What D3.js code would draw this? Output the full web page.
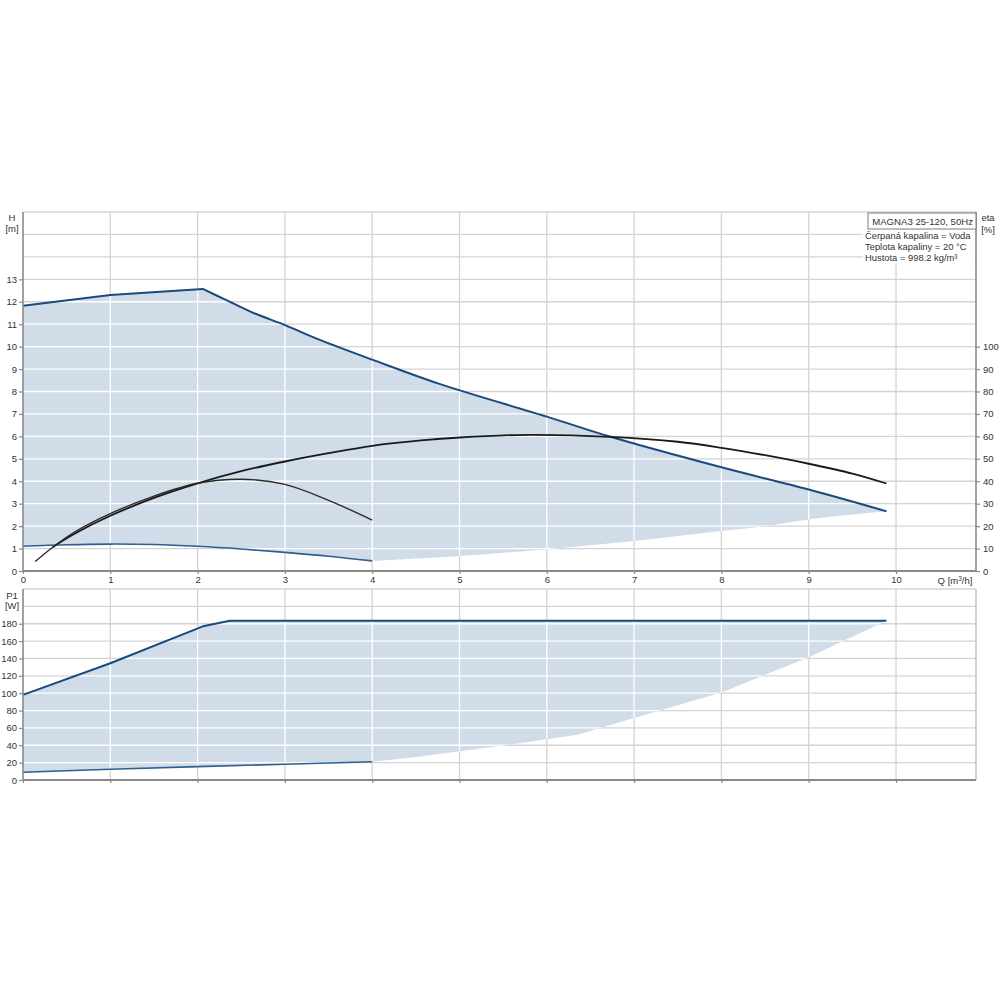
<!DOCTYPE html>
<html><head><meta charset="utf-8">
<script src="https://cdn.jsdelivr.net/npm/d3@7"></script>
<style>
html,body{margin:0;padding:0;background:#fff;}
svg text{font-family:"Liberation Sans",Arial,sans-serif;fill:#333;}
</style></head>
<body>
<svg id="chart" width="1000" height="1000"></svg>
<script>
// ---------- data ----------
const qTicks = [0,1,2,3,4,5,6,7,8,9,10];
const hTicks = [0,1,2,3,4,5,6,7,8,9,10,11,12,13];
const etaTicks = [0,10,20,30,40,50,60,70,80,90,100];
const pTicks = [0,20,40,60,80,100,120,140,160,180];

// H max curve: rising part and falling part
const qHmaxRise = [0, 1, 2.06];
const hMaxRise  = [11.82, 12.3, 12.57];
const qHmaxFall = [2.06, 2.33, 2.64, 3, 3.4, 4, 4.77, 6, 6.73, 8, 9, 9.89];
const hMaxFall  = [12.57, 12.07, 11.5, 10.96, 10.3, 9.42, 8.34, 6.88, 5.98, 4.62, 3.63, 2.66];
// H min curve
const qHmin = [0, 0.5, 1, 1.5, 2, 2.5, 3, 3.5, 4];
const hMin  = [1.1, 1.17, 1.2, 1.18, 1.1, 0.98, 0.83, 0.66, 0.45];
// lower boundary of the H operating range beyond min curve
const qHlow = [4, 5, 6, 7, 8, 8.5, 9, 9.89];
const hLow  = [0.45, 0.67, 0.97, 1.34, 1.78, 2.0, 2.3, 2.66];
// efficiency curves
const qEtaMax = [0.34, 0.6, 1, 1.5, 2, 2.5, 3, 3.5, 4, 4.56, 5, 5.8, 6.73, 7.5, 8, 8.5, 9, 9.5, 9.89];
const etaMax  = [10.6, 16.8, 24.6, 32.6, 39.1, 44.5, 48.8, 52.5, 55.8, 58.2, 59.5, 60.7, 59.8, 57.6, 54.9, 51.6, 47.8, 43.4, 39.0];
const qEtaMin = [0.14, 0.34, 0.6, 1, 1.5, 2, 2.5, 3, 3.5, 4];
const etaMin  = [4.2, 10.6, 17.6, 25.6, 33.4, 39.1, 40.9, 38.6, 31.5, 22.7];
// P1 curves
const qPmax = [0, 1, 2.06, 2.37, 9.89];
const pMax  = [98, 134.5, 177, 183.5, 183.5];
const qPmin = [0, 1, 2, 3, 4];
const pMin  = [9, 12.3, 15.4, 18.1, 21];
const qPlow = [4, 4.55, 5.57, 6.35, 7, 8, 9, 9.89];
const pLow  = [21, 27.2, 40.6, 52.1, 71.3, 100.8, 141.4, 183.5];

const titleText = "MAGNA3 25-120, 50Hz";
const infoLines = ["Čerpaná kapalina = Voda", "Teplota kapaliny = 20 °C", "Hustota = 998.2 kg/m³"];

// ---------- layout ----------
const L = 23, R = 976, T1 = 212, B1 = 571, T2 = 589, B2 = 780;
const svg = d3.select("#chart");
const x = d3.scaleLinear().domain([0, 10.916]).range([L, R]);
const yH = d3.scaleLinear().domain([0, 16]).range([B1, T1]);
const yEta = d3.scaleLinear().domain([0, 160]).range([B1, T1]);
const yP = d3.scaleLinear().domain([0, 220]).range([B2, T2]);

const zip = (a, b) => a.map((v, i) => [v, b[i]]);
const gridCol = "#d4d4d4", curveBlue = "#1b4a7c", fillCol = "#d0dce8";

function drawGrid(g, yScale, yVals, top, bottom, color) {
  g.selectAll(null).data(yVals).enter().append("line")
    .attr("x1", L).attr("x2", R).attr("y1", d => yScale(d)).attr("y2", d => yScale(d))
    .attr("stroke", color).attr("stroke-width", 1.3);
  g.selectAll(null).data(d3.range(1, 11)).enter().append("line")
    .attr("x1", d => x(d)).attr("x2", d => x(d)).attr("y1", top).attr("y2", bottom)
    .attr("stroke", color).attr("stroke-width", 1.3);
}

// line generators
const lineH = d3.line().x(d => x(d[0])).y(d => yH(d[1]));
const lineHs = d3.line().x(d => x(d[0])).y(d => yH(d[1])).curve(d3.curveCatmullRom);
const lineEta = d3.line().x(d => x(d[0])).y(d => yEta(d[1])).curve(d3.curveCatmullRom);
const lineP = d3.line().x(d => x(d[0])).y(d => yP(d[1]));
const linePs = d3.line().x(d => x(d[0])).y(d => yP(d[1])).curve(d3.curveCatmullRom);
const cont = s => "L" + s.slice(1);

// ---------- fill paths ----------
const topFillPath =
  lineH(zip(qHmaxRise, hMaxRise)) +
  cont(lineHs(zip(qHmaxFall, hMaxFall))) +
  cont(lineHs(zip(qHlow, hLow).reverse())) +
  cont(lineHs(zip(qHmin, hMin).reverse())) + "Z";
const botFillPath =
  lineP(zip(qPmax, pMax)) +
  cont(lineP(zip(qPlow, pLow).reverse())) +
  cont(lineP(zip(qPmin, pMin).reverse())) + "Z";

const defs = svg.append("defs");
defs.append("clipPath").attr("id", "clipTop").append("path").attr("d", topFillPath);
defs.append("clipPath").attr("id", "clipBot").append("path").attr("d", botFillPath);

const hGrid = d3.range(1, 17);
const pGrid = d3.range(20, 221, 20);

// grey grid
drawGrid(svg.append("g"), yH, hGrid, T1, B1, gridCol);
drawGrid(svg.append("g"), yP, pGrid, T2, B2, gridCol);
// fills
svg.append("path").attr("d", topFillPath).attr("fill", fillCol);
svg.append("path").attr("d", botFillPath).attr("fill", fillCol);
// white grid over fills
drawGrid(svg.append("g").attr("clip-path", "url(#clipTop)"), yH, hGrid, T1, B1, "#ffffff");
drawGrid(svg.append("g").attr("clip-path", "url(#clipBot)"), yP, pGrid, T2, B2, "#ffffff");

svg.append("line").attr("x1", R).attr("x2", R).attr("y1", T2).attr("y2", B2).attr("stroke", "#c4c4c4").attr("stroke-width", 1.5);

// ---------- curves ----------
svg.append("path").attr("d", lineH(zip(qHmaxRise, hMaxRise)) + cont(lineHs(zip(qHmaxFall, hMaxFall))))
  .attr("fill", "none").attr("stroke", curveBlue).attr("stroke-width", 2).attr("stroke-linejoin", "round");
svg.append("path").attr("d", lineHs(zip(qHmin, hMin))).attr("fill", "none").attr("stroke", "#2f5f93").attr("stroke-width", 1.6);
svg.append("path").attr("d", lineEta(zip(qEtaMax, etaMax))).attr("fill", "none").attr("stroke", "#1a1a1a").attr("stroke-width", 1.8);
svg.append("path").attr("d", lineEta(zip(qEtaMin, etaMin))).attr("fill", "none").attr("stroke", "#2a2a2a").attr("stroke-width", 1.4);
svg.append("path").attr("d", lineP(zip(qPmax, pMax))).attr("fill", "none").attr("stroke", curveBlue).attr("stroke-width", 2).attr("stroke-linejoin", "round");
svg.append("path").attr("d", lineP(zip(qPmin, pMin))).attr("fill", "none").attr("stroke", "#2f5f93").attr("stroke-width", 1.6);

// ---------- axes ----------
const axisCol = "#8a8a8a";
function styleAxis(g) {
  g.select(".domain").remove();
  g.selectAll(".tick line").attr("stroke", axisCol).attr("stroke-width", 1.2);
  g.selectAll(".tick text").attr("font-size", "9.5px").attr("fill", "#333");
}
svg.append("g").attr("transform", `translate(${L},0)`)
  .call(d3.axisLeft(yH).tickValues(hTicks).tickSize(4).tickPadding(2).tickFormat(d3.format("d")))
  .call(styleAxis);
svg.append("g").attr("transform", `translate(${R},0)`)
  .call(d3.axisRight(yEta).tickValues(etaTicks).tickSize(4).tickPadding(3).tickFormat(d3.format("d")))
  .call(styleAxis);
svg.append("g").attr("transform", `translate(0,${B1})`)
  .call(d3.axisBottom(x).tickValues(qTicks).tickSize(3).tickPadding(2).tickFormat(d3.format("d")))
  .call(styleAxis);
svg.append("g").attr("transform", `translate(${L},0)`)
  .call(d3.axisLeft(yP).tickValues(pTicks).tickSize(4).tickPadding(2).tickFormat(d3.format("d")))
  .call(styleAxis);
svg.append("g").attr("transform", `translate(0,${B2})`)
  .call(d3.axisBottom(x).tickValues(qTicks).tickSize(3).tickFormat(""))
  .call(styleAxis);

// axis frame lines
svg.append("line").attr("x1", L).attr("x2", L).attr("y1", T1).attr("y2", B1).attr("stroke", axisCol).attr("stroke-width", 1.6);
svg.append("line").attr("x1", R).attr("x2", R).attr("y1", T1).attr("y2", B1).attr("stroke", axisCol).attr("stroke-width", 1.6);
svg.append("line").attr("x1", L).attr("x2", R).attr("y1", B1).attr("y2", B1).attr("stroke", axisCol).attr("stroke-width", 2);
svg.append("line").attr("x1", L).attr("x2", L).attr("y1", T2).attr("y2", B2).attr("stroke", axisCol).attr("stroke-width", 1.6);
svg.append("line").attr("x1", L).attr("x2", R).attr("y1", B2).attr("y2", B2).attr("stroke", axisCol).attr("stroke-width", 2);

// axis titles
const lab = (t, px, py, anchor) => svg.append("text").attr("x", px).attr("y", py)
  .attr("text-anchor", anchor || "middle").attr("font-size", "9.5px").text(t);
lab("H", 12, 221);
lab("[m]", 12, 232);
lab("P1", 12, 599);
lab("[W]", 12, 609);
lab("eta", 988, 221);
lab("[%]", 988, 233);
svg.append("text").attr("x", 955).attr("y", 584).attr("text-anchor", "middle").attr("font-size", "9.5px")
  .html('Q [m<tspan dy="-3" font-size="6.5px">3</tspan><tspan dy="3">/h]</tspan>');

// legend box
svg.append("rect").attr("x", 863).attr("y", 229).attr("width", R - 864).attr("height", 34).attr("fill", "#fff");
svg.append("rect").attr("x", 868).attr("y", T1 + 1).attr("width", R - 868).attr("height", 16)
  .attr("fill", "#fff").attr("stroke", "#7a7a7a").attr("stroke-width", 1);
svg.append("text").attr("x", 973).attr("y", 224.5).attr("text-anchor", "end").attr("font-size", "9.6px").text(titleText);
svg.selectAll(null).data(infoLines).enter().append("text")
  .attr("x", 865).attr("y", (d, i) => 239 + i * 10.8).attr("font-size", "9.4px").text(d => d);
</script>
</body></html>
